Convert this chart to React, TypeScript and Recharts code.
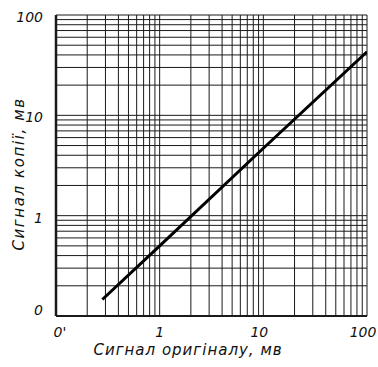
import React from "react";
import { LineChart, Line, XAxis, YAxis, ReferenceLine } from "recharts";

// Data
const signalOriginal = [0.28, 1, 10, 100];
const signalCopy = [0.146, 0.5, 4.7, 43];

const xTicks = [0.1, 1, 10, 100];
const xTickLabels = ["0'", "1", "10", "100"];
const yTicks = [0.1, 1, 10, 100];
const yTickLabels = ["0", "1", "10", "100"];

const gridDecades = [0.1, 1, 10];
const gridMantissas = [1, 2, 3, 4, 5, 6, 7, 8, 9];

const xTitle = "Сигнал оригіналу, мв";
const yTitle = "Сигнал копії, мв";

const data = signalOriginal.map((x, i) => ({ x, y: signalCopy[i] }));
const gridValues: number[] = [];
gridDecades.forEach((d) => gridMantissas.forEach((m) => gridValues.push(+(d * m).toFixed(4))));
gridValues.push(100);

const FONT = "'DejaVu Sans', sans-serif";

const XTick = (props: any) => {
  const { x, y, payload, index } = props;
  const i = xTicks.indexOf(payload.value);
  const dx = i === 0 ? 4 : i === 1 ? 0 : -4;
  return (
    <text x={x + dx} y={y + 13} textAnchor="middle" fontFamily={FONT} fontStyle="italic" fontSize={14} fill="#111">
      {xTickLabels[i >= 0 ? i : index]}
    </text>
  );
};

const YTick = (props: any) => {
  const { x, y, payload, index } = props;
  const i = yTicks.indexOf(payload.value);
  const dy = i === 0 ? -1 : 7;
  return (
    <text x={x - 5} y={y + dy} textAnchor="end" fontFamily={FONT} fontStyle="italic" fontSize={14} fill="#111">
      {yTickLabels[i >= 0 ? i : index]}
    </text>
  );
};

export default function App() {
  return (
    <div style={{ position: "absolute", left: 0, top: 0, background: "#fff" }}>
      <LineChart width={378} height={367} data={data} margin={{ top: 15, right: 11, bottom: 21, left: 6 }}>
        <XAxis
          dataKey="x"
          type="number"
          scale="log"
          domain={[0.1, 100]}
          ticks={xTicks}
          allowDataOverflow
          height={30}
          axisLine={false}
          tickLine={false}
          tick={XTick}
          interval={0}
        />
        <YAxis
          dataKey="y"
          type="number"
          scale="log"
          domain={[0.1, 100]}
          ticks={yTicks}
          allowDataOverflow
          width={50}
          axisLine={false}
          tickLine={false}
          tick={YTick}
          interval={0}
        />
        {gridValues.map((v) => (
          <ReferenceLine key={"vx" + v} x={v} stroke="#1a1a1a" strokeWidth={v === 0.1 ? 2.5 : 1} ifOverflow="extendDomain" />
        ))}
        {gridValues.map((v) => (
          <ReferenceLine key={"hy" + v} y={v} stroke="#1a1a1a" strokeWidth={v === 0.1 ? 2 : 1} ifOverflow="extendDomain" />
        ))}
        <Line dataKey="y" type="linear" stroke="#000" strokeWidth={3} dot={false} isAnimationActive={false} />
        <text x={188} y={355} textAnchor="middle" fontFamily={FONT} fontStyle="italic" fontSize={15} letterSpacing={1} fill="#111">
          {xTitle}
        </text>
        <text
          x={24}
          y={174}
          textAnchor="middle"
          transform="rotate(-90 24 174)"
          fontFamily={FONT}
          fontStyle="italic"
          fontSize={15}
          letterSpacing={1.6}
          fill="#111"
        >
          {yTitle}
        </text>
      </LineChart>
    </div>
  );
}
